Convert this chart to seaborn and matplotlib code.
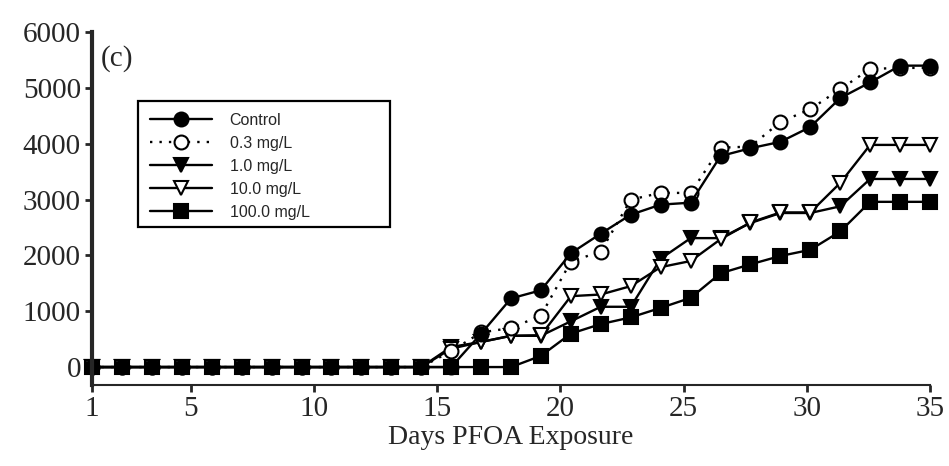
import matplotlib
matplotlib.use("Agg")
import matplotlib.pyplot as plt
from matplotlib.patches import Rectangle
import seaborn as sns
import pandas as pd

days = [1.0, 2.21, 3.43, 4.64, 5.86, 7.07, 8.29, 9.5, 10.71, 11.93,
        13.14, 14.36, 15.57, 16.79, 18.0, 19.21, 20.43, 21.64, 22.86, 24.07,
        25.29, 26.5, 27.71, 28.93, 30.14, 31.36, 32.57, 33.79, 35.0]

control = [0] * 13 + [600, 1230, 1375, 2040, 2390, 2730, 2910, 2945,
                      3780, 3920, 4035, 4300, 4820, 5100, 5400, 5400]
pfoa_03 = [0] * 12 + [285, 620, 700, 920, 1890, 2070, 3000, 3120, 3120,
                      3930, 3950, 4390, 4620, 4980, 5340, 5360, 5360]
pfoa_1 = [0] * 12 + [360, 450, 560, 560, 820, 1080, 1080, 1940, 2310,
                     2310, 2580, 2760, 2760, 2880, 3370, 3370, 3370]
pfoa_10 = [0] * 12 + [330, 450, 560, 570, 1270, 1300, 1450, 1790, 1900,
                      2290, 2590, 2770, 2770, 3300, 3980, 3980, 3980]
pfoa_100 = [0] * 15 + [200, 600, 770, 890, 1060, 1240, 1680, 1840, 1990,
                       2100, 2430, 2960, 2960, 2960]

labels = ["Control", "0.3 mg/L", "1.0 mg/L", "10.0 mg/L", "100.0 mg/L"]
x_ticks = [1, 5, 10, 15, 20, 25, 30, 35]
y_ticks = [0, 1000, 2000, 3000, 4000, 5000, 6000]

sns.set_style("ticks")
plt.rcParams['font.family'] = ['Liberation Serif', 'DejaVu Serif']

fig = plt.figure(figsize=(9.49, 4.66), dpi=100)
ax = fig.add_axes([0.097, 0.174, 0.883, 0.757])

# (values, label, marker, face colour, linestyle), drawn bottom to top
series = [
    (pfoa_100, labels[4], "s", "black", "-"),
    (pfoa_1, labels[2], "v", "black", "-"),
    (pfoa_10, labels[3], "v", "white", "-"),
    (pfoa_03, labels[1], "o", "white", (0, (1, 3))),
    (control, labels[0], "o", "black", "-"),
]

handles = {}
for vals, lab, mk, fc, ls in series:
    df = pd.DataFrame({"day": days, "count": vals})
    sns.lineplot(data=df, x="day", y="count", ax=ax, color="black",
                 marker=mk, markersize=10, markerfacecolor=fc,
                 markeredgecolor="black", markeredgewidth=1.5,
                 linestyle=ls, linewidth=1.7, label=lab, clip_on=False)
    handles[lab] = ax.lines[-1]

ax.set_xlim(1, 35)
ax.set_ylim(-320, 6000)
ax.set_xticks(x_ticks)
ax.set_yticks(y_ticks)
ax.set_xlabel("Days PFOA Exposure", fontsize=20, labelpad=2)
ax.set_ylabel("")
ax.tick_params(axis='both', labelsize=21, direction='out', width=2, length=5)
ax.tick_params(axis='x', pad=3)
ax.tick_params(axis='y', pad=3)

sns.despine(ax=ax)
ax.spines['left'].set_linewidth(3)
ax.spines['bottom'].set_linewidth(1.5)

ax.text(0.01, 0.925, "(c)", transform=ax.transAxes, fontsize=21,
        ha='left', va='center')

leg = ax.legend([handles[l] for l in labels], labels, loc='upper left',
                bbox_to_anchor=(0.069, 0.772), borderaxespad=0, borderpad=0,
                frameon=False,
                prop={'family': 'Liberation Sans', 'size': 11.5},
                handlelength=3.9, handletextpad=1.1, labelspacing=0.5)

# legend box, wider than the entries as in the reference
fig.add_artist(Rectangle((0.1454, 0.5129), 0.2655, 0.2704,
                         transform=fig.transFigure, fill=False,
                         edgecolor="black", linewidth=1.6))

fig.savefig("out.png", dpi=100)
